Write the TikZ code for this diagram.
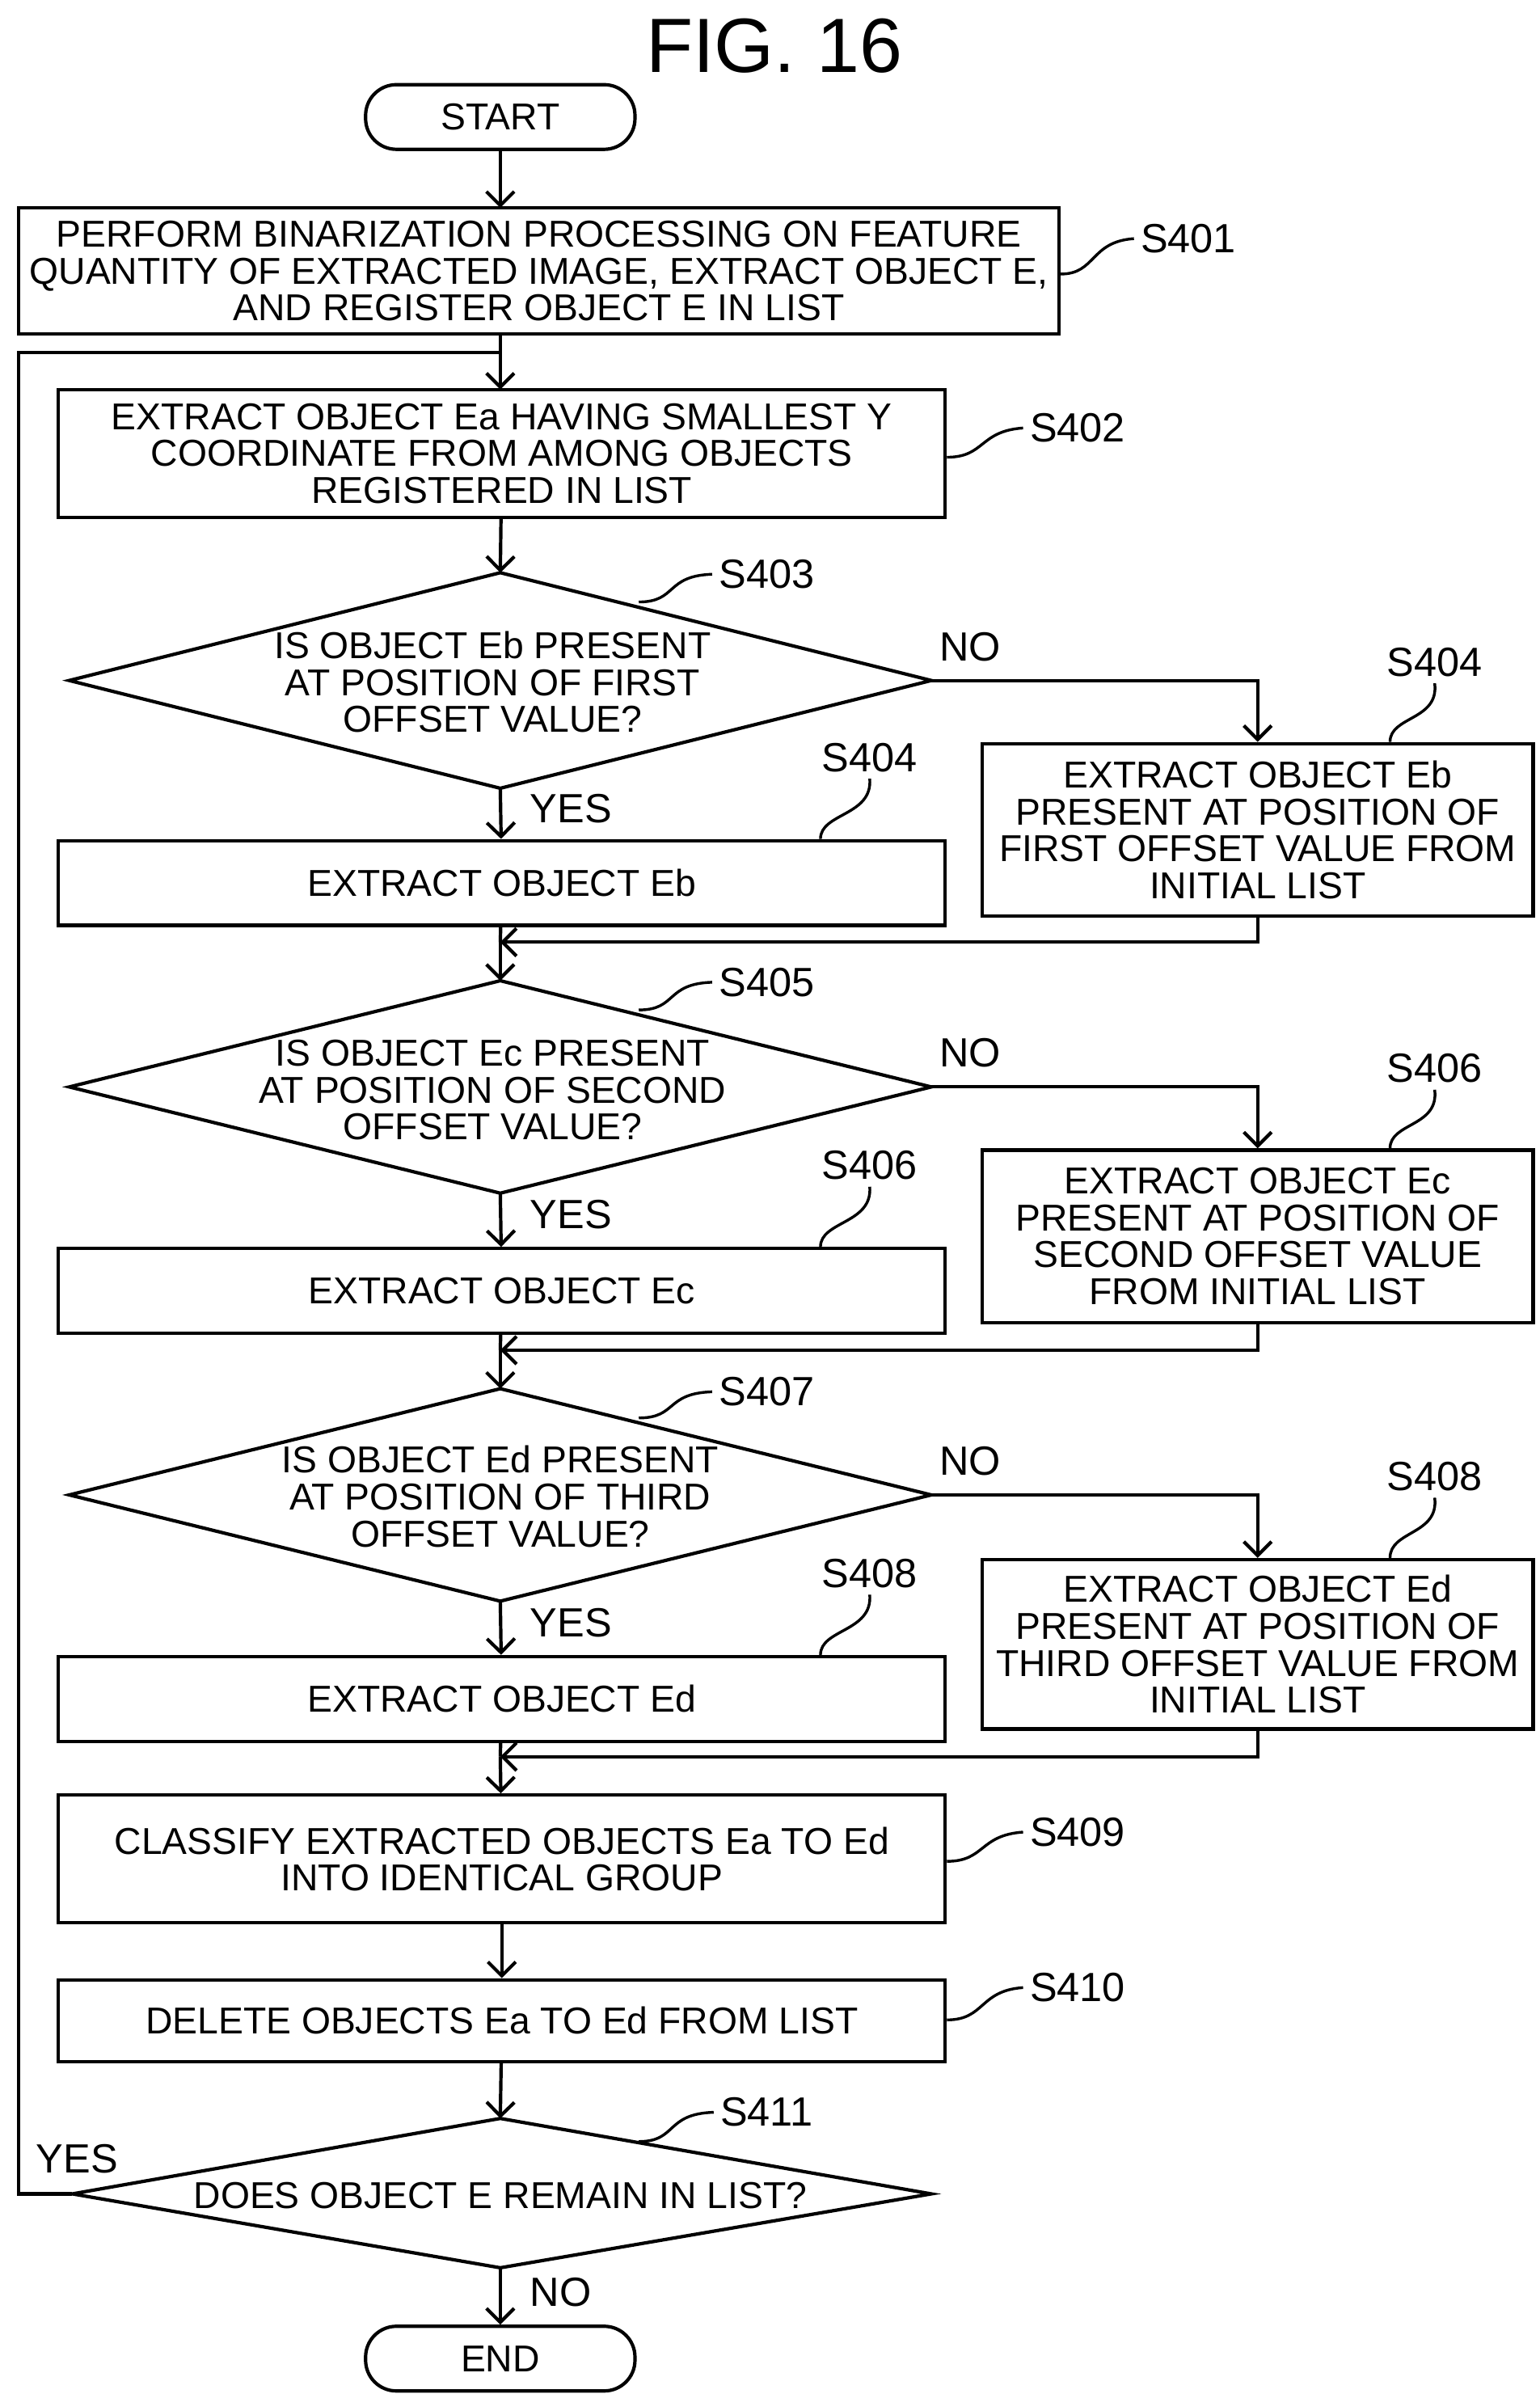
\documentclass[tikz,border=0pt]{standalone}
\usepackage{fontspec}
\setmainfont{Liberation Sans}
\usetikzlibrary{arrows.meta,shapes.geometric}
\begin{document}
\begin{tikzpicture}[x=1pt,y=-1pt,line width=2.2pt,
  box/.style={draw,rectangle,align=center,inner sep=0pt,font=\fontsize{24.3}{24}\selectfont},
  txt/.style={align=center,font=\fontsize{24.3}{24}\selectfont},
  term/.style={draw,rounded corners=20pt,minimum width=175pt,minimum height=42pt,font=\fontsize{24.3}{24}\selectfont},
  lab/.style={font=\fontsize{26.5}{28}\selectfont},
  arr/.style={-{Straight Barb[length=9pt,width=18pt,line width=2.2pt]}},
  lead/.style={line width=1.8pt}]
\useasboundingbox (0,0) rectangle (1000,1555);
\node[font=\fontsize{50}{52}\selectfont] (title) at (503,30) {FIG. 16};
\node[term] (start) at (325,76) {START};
\node[box,minimum width=676pt,minimum height=82pt] (s401) at (350,176) {PERFORM BINARIZATION PROCESSING ON FEATURE\\QUANTITY OF EXTRACTED IMAGE, EXTRACT OBJECT E,\\AND REGISTER OBJECT E IN LIST};
\node[box,minimum width=576pt,minimum height=83pt] (s402) at (326,294.5) {EXTRACT OBJECT Ea HAVING SMALLEST Y\\COORDINATE FROM AMONG OBJECTS\\REGISTERED IN LIST};
\foreach \n/\cy/\hh in {d3/442/70,d5/706/69,d7/971/69}{
  \coordinate (\n t) at (325,\cy-\hh);
  \coordinate (\n b) at (325,\cy+\hh);
  \coordinate (\n l) at (45,\cy);
  \coordinate (\n r) at (605,\cy);
  \draw (\n t)--(\n r)--(\n b)--(\n l)--cycle;
}
\node[txt] (t3) at (320,443) {IS OBJECT Eb PRESENT\\AT POSITION OF FIRST\\OFFSET VALUE?};
\node[txt] (t5) at (320,708) {IS OBJECT Ec PRESENT\\AT POSITION OF SECOND\\OFFSET VALUE?};
\node[txt] (t7) at (325,972) {IS OBJECT Ed PRESENT\\AT POSITION OF THIRD\\OFFSET VALUE?};
\node[box,minimum width=358pt,minimum height=112pt] (r4) at (817,539) {EXTRACT OBJECT Eb\\PRESENT AT POSITION OF\\FIRST OFFSET VALUE FROM\\INITIAL LIST};
\node[box,minimum width=358pt,minimum height=112pt] (r6) at (817,803) {EXTRACT OBJECT Ec\\PRESENT AT POSITION OF\\SECOND OFFSET VALUE\\FROM INITIAL LIST};
\node[box,minimum width=358pt,minimum height=110pt] (r8) at (817,1068) {EXTRACT OBJECT Ed\\PRESENT AT POSITION OF\\THIRD OFFSET VALUE FROM\\INITIAL LIST};
\node[box,minimum width=576pt,minimum height=55pt] (l4) at (326,573.5) {EXTRACT OBJECT Eb};
\node[box,minimum width=576pt,minimum height=55pt] (l6) at (326,838.5) {EXTRACT OBJECT Ec};
\node[box,minimum width=576pt,minimum height=55pt] (l8) at (326,1103.5) {EXTRACT OBJECT Ed};
\node[box,minimum width=576pt,minimum height=83pt] (s409) at (326,1207.5) {CLASSIFY EXTRACTED OBJECTS Ea TO Ed\\INTO IDENTICAL GROUP};
\node[box,minimum width=576pt,minimum height=53pt] (s410) at (326,1312.5) {DELETE OBJECTS Ea TO Ed FROM LIST};
\coordinate (d11t) at (325,1376);
\coordinate (d11b) at (325,1473);
\coordinate (d11l) at (47,1425);
\coordinate (d11r) at (605,1425);
\draw (d11t)--(d11r)--(d11b)--(d11l)--cycle;
\node[txt] (t11) at (325,1426) {DOES OBJECT E REMAIN IN LIST?};
\node[term] (end) at (325,1532) {END};
% step labels
\node[lab] (L401) at (772,155) {S401};
\node[lab] (L402) at (700,278) {S402};
\node[lab] (L403) at (498,373) {S403};
\node[lab] (L404r) at (932,430) {S404};
\node[lab] (L404l) at (565,492) {S404};
\node[lab] (L405) at (498,638) {S405};
\node[lab] (L406r) at (932,694) {S406};
\node[lab] (L406l) at (565,757) {S406};
\node[lab] (L407) at (498,904) {S407};
\node[lab] (L408r) at (932,959) {S408};
\node[lab] (L408l) at (565,1022) {S408};
\node[lab] (L409) at (700,1190) {S409};
\node[lab] (L410) at (700,1291) {S410};
\node[lab] (L411) at (498,1372) {S411};
% leaders
\draw[lead] (s401.east |- 0,178) .. controls (712,178) and (708,157) .. (L401.west);
\draw[lead] (s402.east |- 0,297) .. controls (640,297) and (636,280) .. (L402.west);
\draw[lead] (s409.east |- 0,1209) .. controls (640,1209) and (636,1192) .. (L409.west);
\draw[lead] (s410.east |- 0,1312) .. controls (640,1312) and (636,1293) .. (L410.west);
\draw[lead] (415,391) .. controls (440,391) and (432,374) .. (L403.west);
\draw[lead] (415,656) .. controls (440,656) and (432,639) .. (L405.west);
\draw[lead] (415,921) .. controls (440,921) and (432,905) .. (L407.west);
\draw[lead] (415,1391) .. controls (440,1391) and (432,1373) .. (L411.west);
\draw[lead] (r4.north -| 903,0) .. controls (903,465) and (935,468) .. (L404r.south);
\draw[lead] (r6.north -| 903,0) .. controls (903,729) and (935,732) .. (L406r.south);
\draw[lead] (r8.north -| 903,0) .. controls (903,994) and (935,997) .. (L408r.south);
\draw[lead] (l4.north -| 533,0) .. controls (533,528) and (567,530) .. (L404l.south);
\draw[lead] (l6.north -| 533,0) .. controls (533,793) and (567,795) .. (L406l.south);
\draw[lead] (l8.north -| 533,0) .. controls (533,1058) and (567,1060) .. (L408l.south);
% yes/no
\node[lab,anchor=west] (y3) at (340,525) {YES};
\node[lab,anchor=west] (y5) at (340,789) {YES};
\node[lab,anchor=west] (y7) at (340,1054) {YES};
\node[lab,anchor=west] (n3) at (606,420) {NO};
\node[lab,anchor=west] (n5) at (606,684) {NO};
\node[lab,anchor=west] (n7) at (606,949) {NO};
\node[lab] (y11) at (50,1402) {YES};
\node[lab,anchor=west] (n11) at (340,1489) {NO};
% connectors
\coordinate (a1) at (325,135);
\draw[arr] (start) -- (a1);
\coordinate (a2) at (325,217);
\coordinate (a3) at (325,253);
\draw[arr] (a2) -- (a3);
\draw[arr] (s402) -- (d3t);
\draw[arr] (d3b) -- (l4);
\draw[arr] (d3r) -| (r4);
\coordinate (m4) at (325,612);
\draw[arr] (r4.south) |- (m4);
\draw (l4) -- (m4);
\draw[arr] (m4) -- (d5t);
\draw[arr] (d5b) -- (l6);
\draw[arr] (d5r) -| (r6);
\coordinate (m6) at (325,877);
\draw[arr] (r6.south) |- (m6);
\draw (l6) -- (m6);
\draw[arr] (m6) -- (d7t);
\draw[arr] (d7b) -- (l8);
\draw[arr] (d7r) -| (r8);
\coordinate (m8) at (325,1141);
\draw[arr] (r8.south) |- (m8);
\draw (l8) -- (m8);
\draw[arr] (m8) -- (s409);
\draw[arr] (s409) -- (s410);
\draw[arr] (s410) -- (d11t);
\draw[arr] (d11b) -- (end);
\coordinate (m2) at (325,229);
\draw (d11l) -- (12,1425) -- (12,229) -- (m2);
\end{tikzpicture}
\end{document}
